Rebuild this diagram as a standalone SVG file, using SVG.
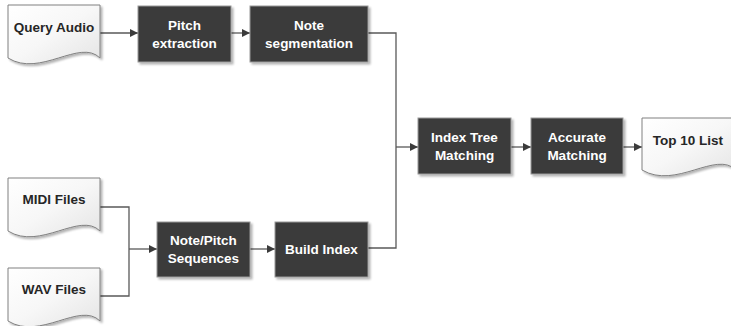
<svg xmlns="http://www.w3.org/2000/svg" width="731" height="326" viewBox="0 0 731 326">
<defs>
<linearGradient id="docg" x1="0" y1="0" x2="1" y2="1">
<stop offset="0" stop-color="#ffffff"/>
<stop offset="0.5" stop-color="#f7f7f7"/>
<stop offset="1" stop-color="#e4e4e4"/>
</linearGradient>
<filter id="sh" x="-10%" y="-10%" width="130%" height="130%">
<feGaussianBlur in="SourceAlpha" stdDeviation="1.2"/>
<feOffset dx="1.5" dy="1.5" result="b"/>
<feComponentTransfer><feFuncA type="linear" slope="0.3"/></feComponentTransfer>
<feMerge><feMergeNode/><feMergeNode in="SourceGraphic"/></feMerge>
</filter>
<marker id="arr" viewBox="0 0 10 10" refX="10" refY="5" markerWidth="8" markerHeight="8" markerUnits="userSpaceOnUse" orient="auto">
<path d="M0,0 L10,5 L0,10 Z" fill="#3b3b3b"/>
</marker>
</defs>
<style>
.box{fill:#3b3b3b;stroke:#9a9a9a;stroke-width:1;filter:url(#sh)}
.doc{fill:url(#docg);stroke:#808080;stroke-width:1;filter:url(#sh)}
.bt{font-family:"Liberation Sans",Arial,sans-serif;font-weight:bold;font-size:13.5px;fill:#ffffff;text-anchor:middle}
.dt{font-family:"Liberation Sans",Arial,sans-serif;font-weight:bold;font-size:13.5px;fill:#262626;text-anchor:middle}
.ln{fill:none;stroke:#595959;stroke-width:1.3}
</style>

<g id="connectors">
<path class="ln" d="M100,33 H138" marker-end="url(#arr)"/>
<path class="ln" d="M231,33 H250" marker-end="url(#arr)"/>
<path class="ln" d="M368,33 H396 V248 H368"/>
<path class="ln" d="M396,147 H418" marker-end="url(#arr)"/>
<path class="ln" d="M511,147 H531" marker-end="url(#arr)"/>
<path class="ln" d="M623,147 H642" marker-end="url(#arr)"/>
<path class="ln" d="M100,207 H129 V296 H100"/>
<path class="ln" d="M129,249 H157" marker-end="url(#arr)"/>
<path class="ln" d="M250,249 H275" marker-end="url(#arr)"/>
</g>

<g id="query-audio">
<path class="doc" d="M8,5 H100 V58 C80,38 40,78 8,58 Z"/>
<text class="dt" x="54" y="32">Query Audio</text>
</g>
<g id="pitch-extraction">
<rect class="box" x="138" y="6" width="93" height="56"/>
<text class="bt" x="184.5" y="30">Pitch</text>
<text class="bt" x="184.5" y="48">extraction</text>
</g>
<g id="note-segmentation">
<rect class="box" x="250" y="6" width="118" height="56"/>
<text class="bt" x="309" y="30">Note</text>
<text class="bt" x="309" y="48">segmentation</text>
</g>
<g id="midi-files">
<path class="doc" d="M8,178 H100 V231 C80,211 40,251 8,231 Z"/>
<text class="dt" x="54" y="204">MIDI Files</text>
</g>
<g id="wav-files">
<path class="doc" d="M8,268 H100 V321 C80,301 40,341 8,321 Z"/>
<text class="dt" x="54" y="294">WAV Files</text>
</g>
<g id="note-pitch-sequences">
<rect class="box" x="157" y="222" width="93" height="55"/>
<text class="bt" x="203.5" y="245">Note/Pitch</text>
<text class="bt" x="203.5" y="263">Sequences</text>
</g>
<g id="build-index">
<rect class="box" x="275" y="222" width="93" height="55"/>
<text class="bt" x="321.5" y="254">Build Index</text>
</g>
<g id="index-tree-matching">
<rect class="box" x="418" y="118" width="93" height="56"/>
<text class="bt" x="464.5" y="142">Index Tree</text>
<text class="bt" x="464.5" y="160">Matching</text>
</g>
<g id="accurate-matching">
<rect class="box" x="531" y="118" width="92" height="56"/>
<text class="bt" x="577" y="142">Accurate</text>
<text class="bt" x="577" y="160">Matching</text>
</g>
<g id="top-10-list">
<path class="doc" d="M642,118 H736 V170 C716,150 676,190 642,170 Z"/>
<text class="dt" x="688" y="145">Top 10 List</text>
</g>
</svg>
